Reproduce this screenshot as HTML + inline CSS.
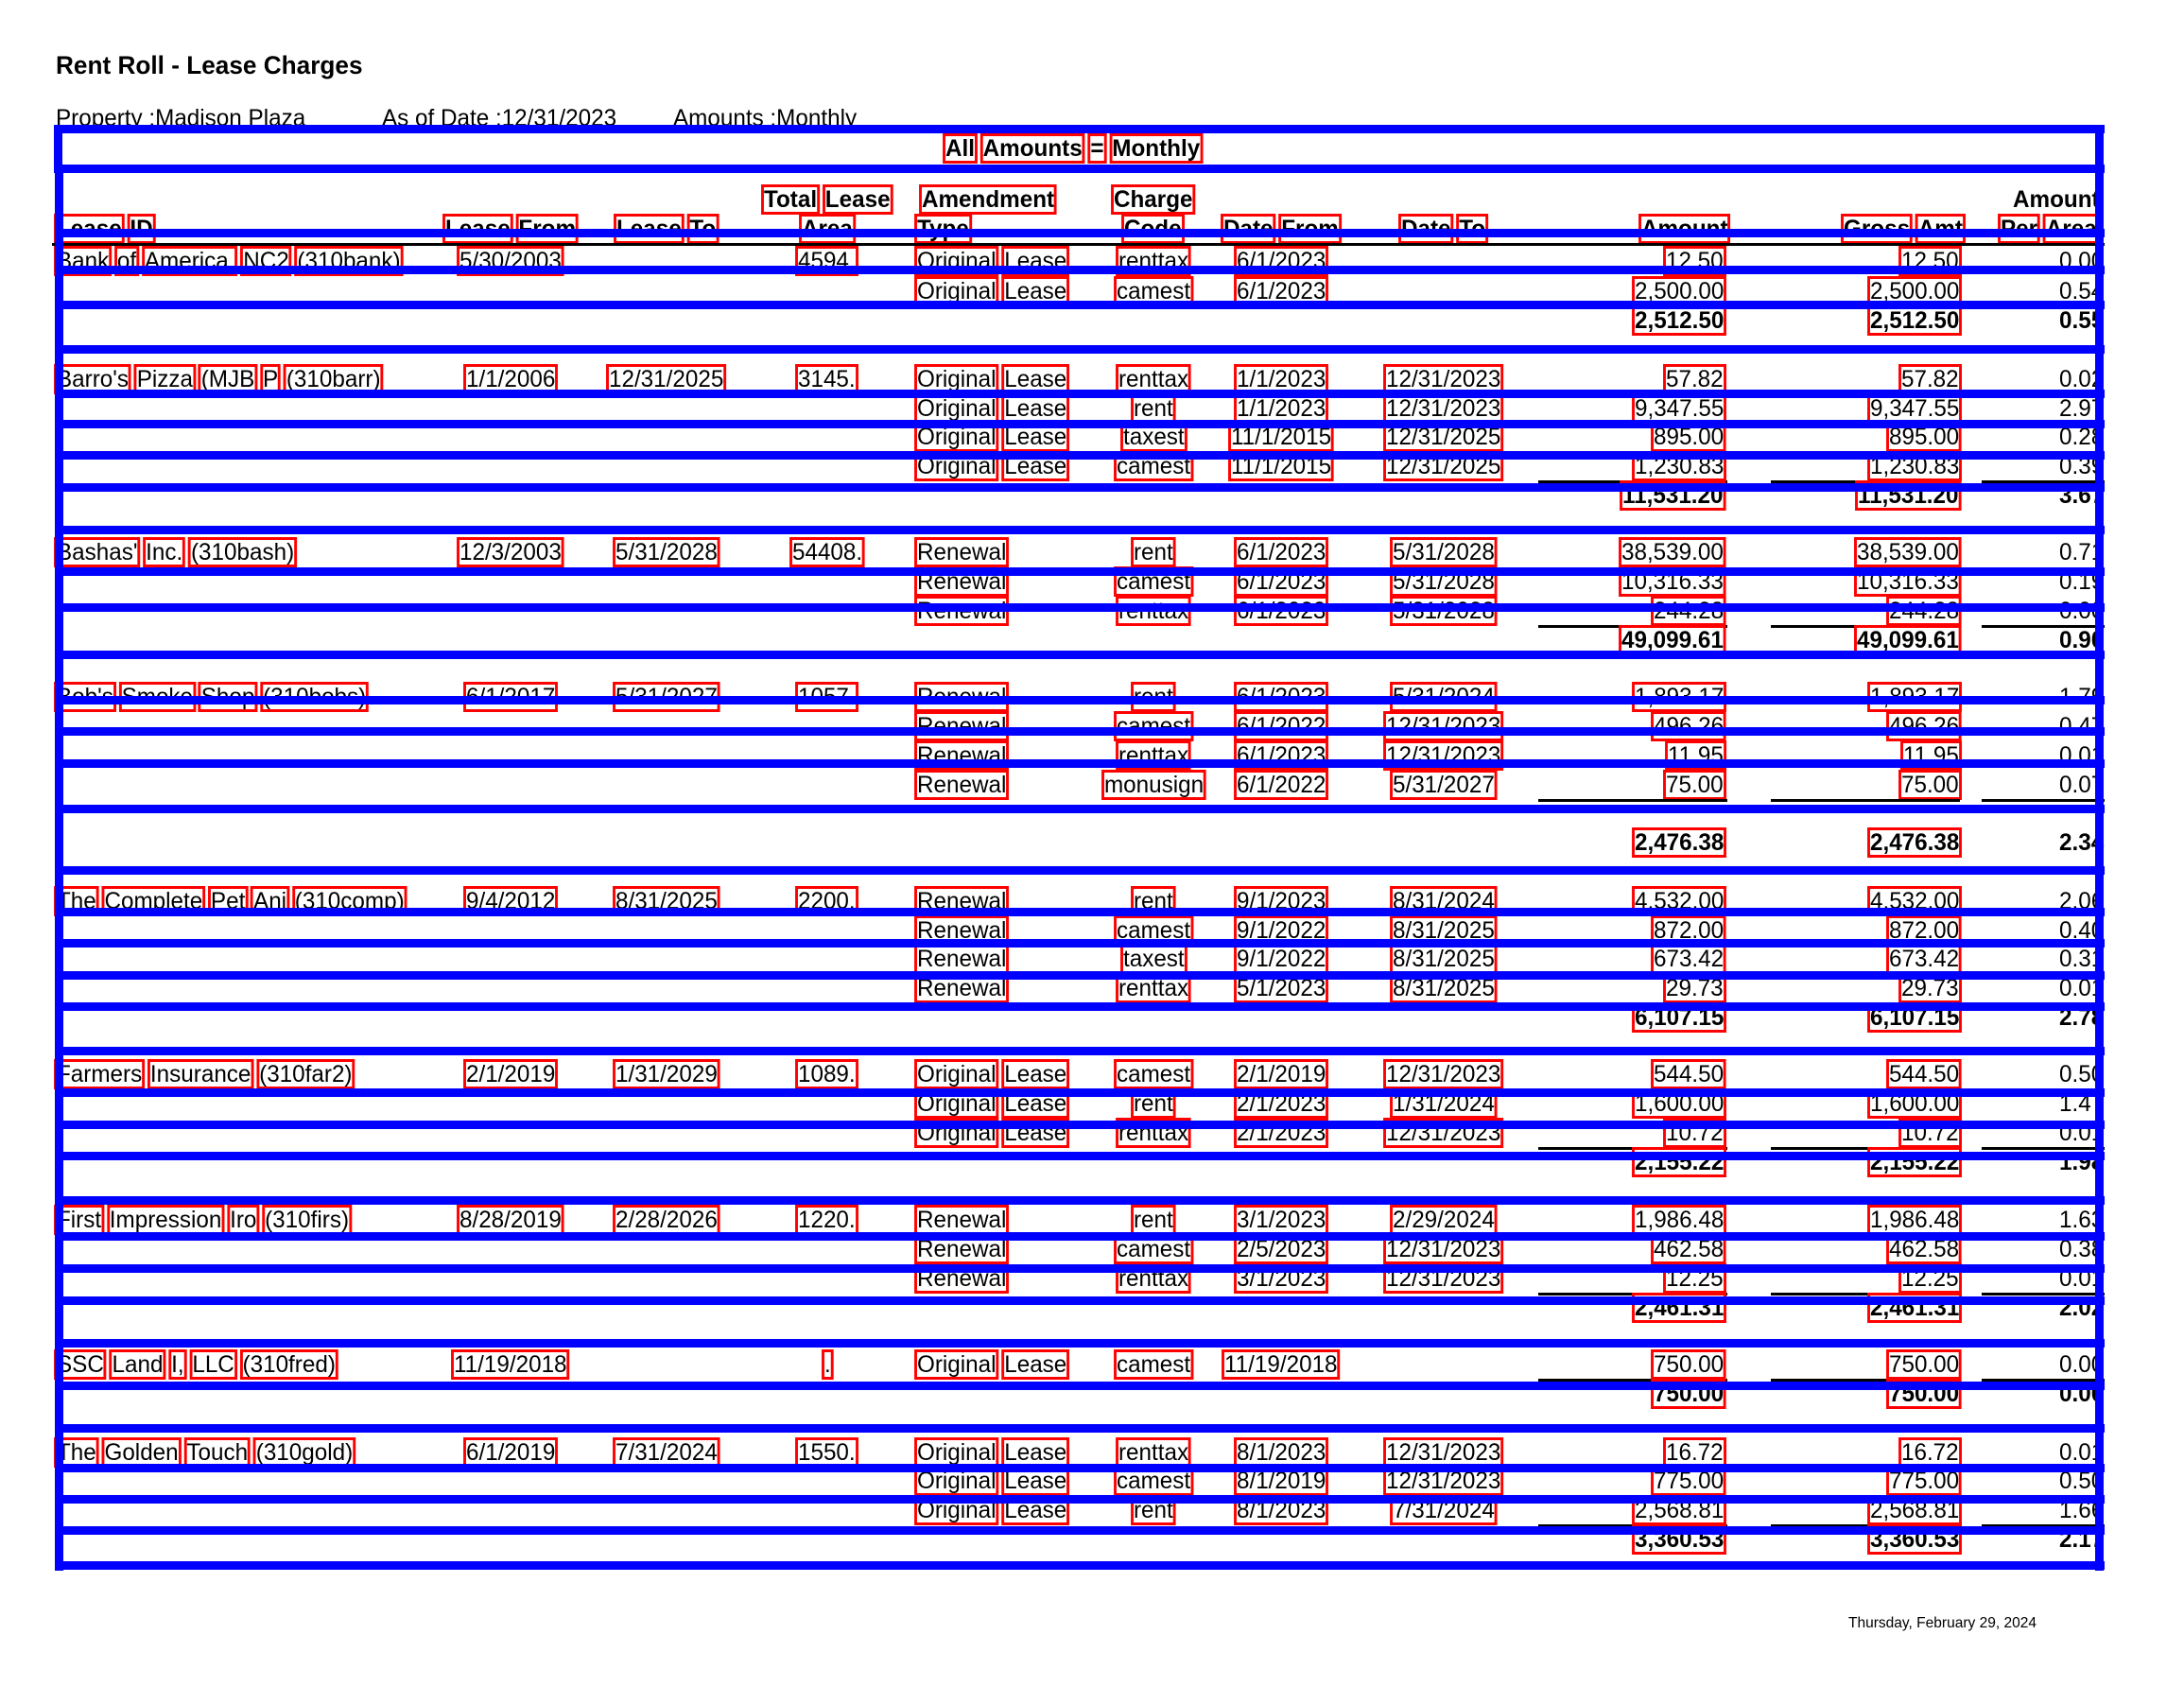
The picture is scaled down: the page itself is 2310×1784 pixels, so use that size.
<!DOCTYPE html>
<html><head><meta charset="utf-8">
<style>
html,body{margin:0;padding:0;background:#fff}
#page{position:relative;width:2310px;height:1784px;overflow:hidden;background:#fff;font-family:"Liberation Sans Narrow","Liberation Sans",sans-serif;color:#000}
#clip{position:absolute;left:0;top:0;width:2226px;height:1784px;overflow:hidden}
.t{position:absolute;white-space:nowrap;font-size:25px;line-height:30px;height:30px;transform-origin:0 0;transform:scaleX(0.97)}
.b{font-weight:bold}
.w{outline:3px solid #f00;outline-offset:-1px;padding:0 1px}
.bl{position:absolute;background:#0000ff}
.hl{position:absolute;height:3px;background:#000}
</style></head><body>
<div id="page">
<div class="t b" style="left:59px;top:54px;font-size:27px">Rent Roll - Lease Charges</div>
<div class="t" style="left:59px;top:110px">Property :Madison Plaza</div>
<div class="t" style="left:404px;top:110px">As of Date :12/31/2023</div>
<div class="t" style="left:712px;top:110px">Amounts :Monthly</div>
<div id="clip"></div>
<div class="t" style="left:1955px;top:1706px;font-size:16px;line-height:22px">Thursday, February 29, 2024</div>
</div>
<script>
const leaseIds=["Bank of America, NC2 (310bank)","Barro's Pizza (MJB P (310barr)","Bashas' Inc. (310bash)","Bob's Smoke Shop (310bobs)","The Complete Pet Ani (310comp)","Farmers Insurance (310far2)","First Impression Iro (310firs)","SSC Land I, LLC (310fred)","The Golden Touch (310gold)"];
const leaseFrom=["5/30/2003","1/1/2006","12/3/2003","6/1/2017","9/4/2012","2/1/2019","8/28/2019","11/19/2018","6/1/2019"];
const leaseTo=["","12/31/2025","5/31/2028","5/31/2027","8/31/2025","1/31/2029","2/28/2026","","7/31/2024"];
const areas=["4594.","3145.","54408.","1057.","2200.","1089.","1220.",".","1550."];
const chTypes=[["Original Lease","Original Lease"],["Original Lease","Original Lease","Original Lease","Original Lease"],["Renewal","Renewal","Renewal"],["Renewal","Renewal","Renewal","Renewal"],["Renewal","Renewal","Renewal","Renewal"],["Original Lease","Original Lease","Original Lease"],["Renewal","Renewal","Renewal"],["Original Lease"],["Original Lease","Original Lease","Original Lease"]];
const chCodes=[["renttax","camest"],["renttax","rent","taxest","camest"],["rent","camest","renttax"],["rent","camest","renttax","monusign"],["rent","camest","taxest","renttax"],["camest","rent","renttax"],["rent","camest","renttax"],["camest"],["renttax","camest","rent"]];
const chFrom=[["6/1/2023","6/1/2023"],["1/1/2023","1/1/2023","11/1/2015","11/1/2015"],["6/1/2023","6/1/2023","6/1/2023"],["6/1/2023","6/1/2022","6/1/2023","6/1/2022"],["9/1/2023","9/1/2022","9/1/2022","5/1/2023"],["2/1/2019","2/1/2023","2/1/2023"],["3/1/2023","2/5/2023","3/1/2023"],["11/19/2018"],["8/1/2023","8/1/2019","8/1/2023"]];
const chTo=[["",""],["12/31/2023","12/31/2023","12/31/2025","12/31/2025"],["5/31/2028","5/31/2028","5/31/2028"],["5/31/2024","12/31/2023","12/31/2023","5/31/2027"],["8/31/2024","8/31/2025","8/31/2025","8/31/2025"],["12/31/2023","1/31/2024","12/31/2023"],["2/29/2024","12/31/2023","12/31/2023"],[""],["12/31/2023","12/31/2023","7/31/2024"]];
const chAmt=[["12.50","2,500.00"],["57.82","9,347.55","895.00","1,230.83"],["38,539.00","10,316.33","244.28"],["1,893.17","496.26","11.95","75.00"],["4,532.00","872.00","673.42","29.73"],["544.50","1,600.00","10.72"],["1,986.48","462.58","12.25"],["750.00"],["16.72","775.00","2,568.81"]];
const chPer=[["0.00","0.54"],["0.02","2.97","0.28","0.39"],["0.71","0.19","0.00"],["1.79","0.47","0.01","0.07"],["2.06","0.40","0.31","0.01"],["0.50","1.47","0.01"],["1.63","0.38","0.01"],["0.00"],["0.01","0.50","1.66"]];
const totals=["2,512.50","11,531.20","49,099.61","2,476.38","6,107.15","2,155.22","2,461.31","750.00","3,360.53"];
const totalPer=["0.55","3.67","0.90","2.34","2.78","1.98","2.02","0.00","2.17"];
const rowYs=[[276,308,339],[401,432,462,493,524],[584,615,646,677],[737,768,799,830,891],[953,984,1014,1045,1076],[1136,1167,1198,1229],[1290,1321,1352,1383],[1443,1474],[1536,1566,1597,1628]];
const blueYs=[137,179,247,286,323,370,417,449,482,516,561,605,643,693,741,774,808,856,921,965,998,1032,1065,1112,1156,1190,1223,1270,1308,1342,1376,1421,1466,1511,1553,1586,1619,1656];

const SX=0.97;
const clip=document.getElementById('clip');
function txt(s,x,y,align,bold,boxed,name){
  const d=document.createElement('div');
  d.className='t'+(bold?' b':'');
  
  
  if(boxed){d.innerHTML=s.split(' ').map(w=>'<span class="w">'+w.replace(/&/g,'&amp;').replace(/</g,'&lt;')+'</span>').join(' ');}
  else d.textContent=s;
  d.style.top=(y-15)+'px';
  clip.appendChild(d);
  const w=d.offsetWidth*SX;
  if(align==='l')d.style.left=x+'px';
  else if(align==='c')d.style.left=(x-w/2)+'px';
  else d.style.left=(x-w)+'px';
  return d;
}
function rect(x,y,w,h,cls,name){
  const d=document.createElement('div');
  d.className=cls;
  
  
  d.style.left=x+'px';d.style.top=y+'px';d.style.width=w+'px';if(h)d.style.height=h+'px';
  clip.appendChild(d);
}
txt('All Amounts = Monthly',1135,157,'c',true,true,'all-amounts-banner');
txt('Lease ID',59,242,'l',true,true,'header-lease-id');
txt('Lease From',540,242,'c',true,true,'header-lease-from');
txt('Lease To',705,242,'c',true,true,'header-lease-to');
txt('Total Lease',875,211,'c',true,true,'header-total-lease');
txt('Area',875,242,'c',true,true,'header-area');
txt('Amendment',1045,211,'c',true,true,'header-amendment');
txt('Type',969,242,'l',true,true,'header-type');
txt('Charge',1220,211,'c',true,true,'header-charge');
txt('Code',1220,242,'c',true,true,'header-code');
txt('Date From',1355,242,'c',true,true,'header-date-from');
txt('Date To',1527,242,'c',true,true,'header-date-to');
txt('Amount',1828,242,'r',true,true,'header-amount');
txt('Gross Amt',2077,242,'r',true,true,'header-gross-amt');
txt('Amount',2220,211,'r',true,false,'header-amount-per');
txt('Per Area',2115,242,'l',true,true,'header-per-area');
rect(55,257,2175,3,'hl','header-underline');

for(let i=0;i<leaseIds.length;i++){
  const ys=rowYs[i];
  txt(leaseIds[i],59,ys[0],'l',false,true,'lease-id');
  txt(leaseFrom[i],540,ys[0],'c',false,true,'lease-from');
  if(leaseTo[i])txt(leaseTo[i],705,ys[0],'c',false,true,'lease-to');
  txt(areas[i],875,ys[0],'c',false,true,'lease-area');
  for(let j=0;j<chCodes[i].length;j++){
    const y=ys[j];
    txt(chTypes[i][j],969,y,'l',false,true,'amendment-type');
    txt(chCodes[i][j],1220,y,'c',false,true,'charge-code');
    txt(chFrom[i][j],1355,y,'c',false,true,'charge-date-from');
    if(chTo[i][j])txt(chTo[i][j],1527,y,'c',false,true,'charge-date-to');
    txt(chAmt[i][j],1824,y,'r',false,true,'charge-amount');
    txt(chPer[i][j],2226,y,'r',false,false,'charge-per-area');
    txt(chAmt[i][j],2073,y,'r',false,true,'charge-gross-amount');
  }
  const ty=ys[ys.length-1];
  const ly=ys[ys.length-2]+15;
  rect(1627,ly,200,3,'hl','subtotal-rule-amount');
  rect(1873,ly,200,3,'hl','subtotal-rule-gross');
  rect(2096,ly,130,3,'hl','subtotal-rule-per');
  txt(totals[i],1824,ty,'r',true,true,'total-amount');
  txt(totals[i],2073,ty,'r',true,true,'total-gross');
  txt(totalPer[i],2226,ty,'r',true,false,'total-per-area');
}
for(let k=0;k<blueYs.length;k++){
  const x0=k<2?57:60;
  rect(x0,blueYs[k]-5,2226-x0,9,'bl','blue-row-line');
}
rect(57,132,9,50,'bl','blue-left-edge-top');
rect(58,175,9,1486,'bl','blue-left-edge');
rect(2216,132,9,1529,'bl','blue-right-edge');
</script>
</body></html>
